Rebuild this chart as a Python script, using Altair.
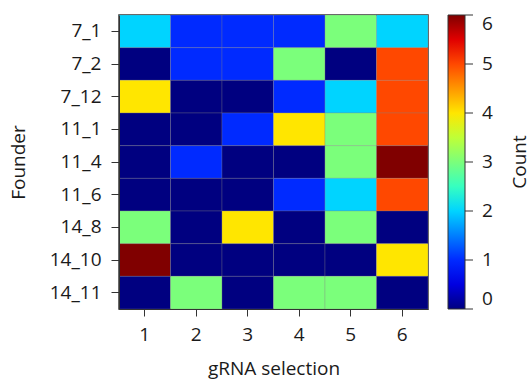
import altair as alt
import pandas as pd

founders = ["7_1", "7_2", "7_12", "11_1", "11_4", "11_6", "14_8", "14_10", "14_11"]
grnas = [1, 2, 3, 4, 5, 6]
counts = [
    [2, 1, 1, 1, 3, 2],
    [0, 1, 1, 3, 0, 5],
    [4, 0, 0, 1, 2, 5],
    [0, 0, 1, 4, 3, 5],
    [0, 1, 0, 0, 3, 6],
    [0, 0, 0, 1, 2, 5],
    [3, 0, 4, 0, 3, 0],
    [6, 0, 0, 0, 0, 4],
    [0, 3, 0, 3, 3, 0],
]
legend_values = [0, 1, 2, 3, 4, 5, 6]

rows = []
for f, vals in zip(founders, counts):
    for g, v in zip(grnas, vals):
        rows.append({"Founder": f, "gRNA": g, "Count": v})
df = pd.DataFrame(rows)

# jet colormap anchor points (domain in count units 0..6)
jet_domain = [0, 0.66, 0.75, 2.04, 2.1, 2.25, 3.84, 3.9, 3.96, 5.34, 5.46, 6]
jet_range = ["#000080", "#0000ff", "#0000ff", "#00dbff", "#00e5f7", "#14ffe2",
             "#eeff08", "#f7f500", "#ffec00", "#ff1300", "#e80000", "#800000"]

FONT = "Open Sans"
FS = 19
TXT = "#1a1a1a"
W, H = 309, 294
GX0, GT = 20, 17  # colorbar offset from plot and thickness

heat = alt.Chart(df).mark_rect(stroke="#808080", strokeWidth=0.3,
                               opacity=1, fillOpacity=1).encode(
    x=alt.X("gRNA:O", sort=grnas,
            axis=alt.Axis(title="gRNA selection", labelAngle=0, tickSize=7,
                          labelPadding=9, titleX=W / 2, titleY=59,
                          titleBaseline="middle", titleAlign="center")),
    y=alt.Y("Founder:N", sort=founders,
            axis=alt.Axis(title="Founder", tickSize=8, labelPadding=10,
                          titleX=-101, titleY=H / 2, titleAngle=270,
                          titleAlign="center", titleBaseline="middle")),
    color=alt.Color("Count:Q",
                    scale=alt.Scale(domain=jet_domain, range=jet_range,
                                    interpolate="rgb"),
                    legend=alt.Legend(title=None, values=legend_values,
                                      gradientLength=H, gradientThickness=GT,
                                      gradientStrokeColor="#333",
                                      gradientStrokeWidth=1,
                                      labelOffset=17, labelBaseline="middle",
                                      labelOverlap=False,
                                      offset=GX0, padding=0)),
)

ticks = alt.Chart(pd.DataFrame({"v": legend_values})).mark_rule(
    color="#333", strokeWidth=1
).encode(
    y=alt.Y("v:Q", scale=alt.Scale(domain=[0, 6], nice=False, zero=False),
            axis=None),
    x=alt.value(W + GX0 + GT),
    x2=alt.value(W + GX0 + GT + 8),
)

count_title = alt.Chart(pd.DataFrame({"t": ["Count"]})).mark_text(
    angle=270, font=FONT, fontSize=FS, color=TXT, align="center",
    baseline="middle"
).encode(text="t:N", x=alt.value(W + 92), y=alt.value(H / 2))

chart = alt.layer(heat, ticks, count_title).resolve_scale(
    y="independent"
).properties(
    width=W, height=H,
    autosize=alt.AutoSizeParams(type="none"),
    padding={"left": 119, "top": 15, "right": 104, "bottom": 72},
).configure(font=FONT).configure_axis(
    labelFont=FONT, titleFont=FONT, labelFontSize=FS, titleFontSize=FS,
    labelColor=TXT, titleColor=TXT, tickColor="#333", domainColor="#333",
    domainWidth=1, tickWidth=1, grid=False, titleFontWeight="normal",
).configure_legend(
    labelFont=FONT, titleFont=FONT, labelFontSize=FS, titleFontSize=FS,
    labelColor=TXT, titleColor=TXT, titleFontWeight="normal",
).configure_view(stroke="#333", strokeWidth=1.5)

chart.save("out.html", embed_options={"renderer": "svg", "actions": False})
